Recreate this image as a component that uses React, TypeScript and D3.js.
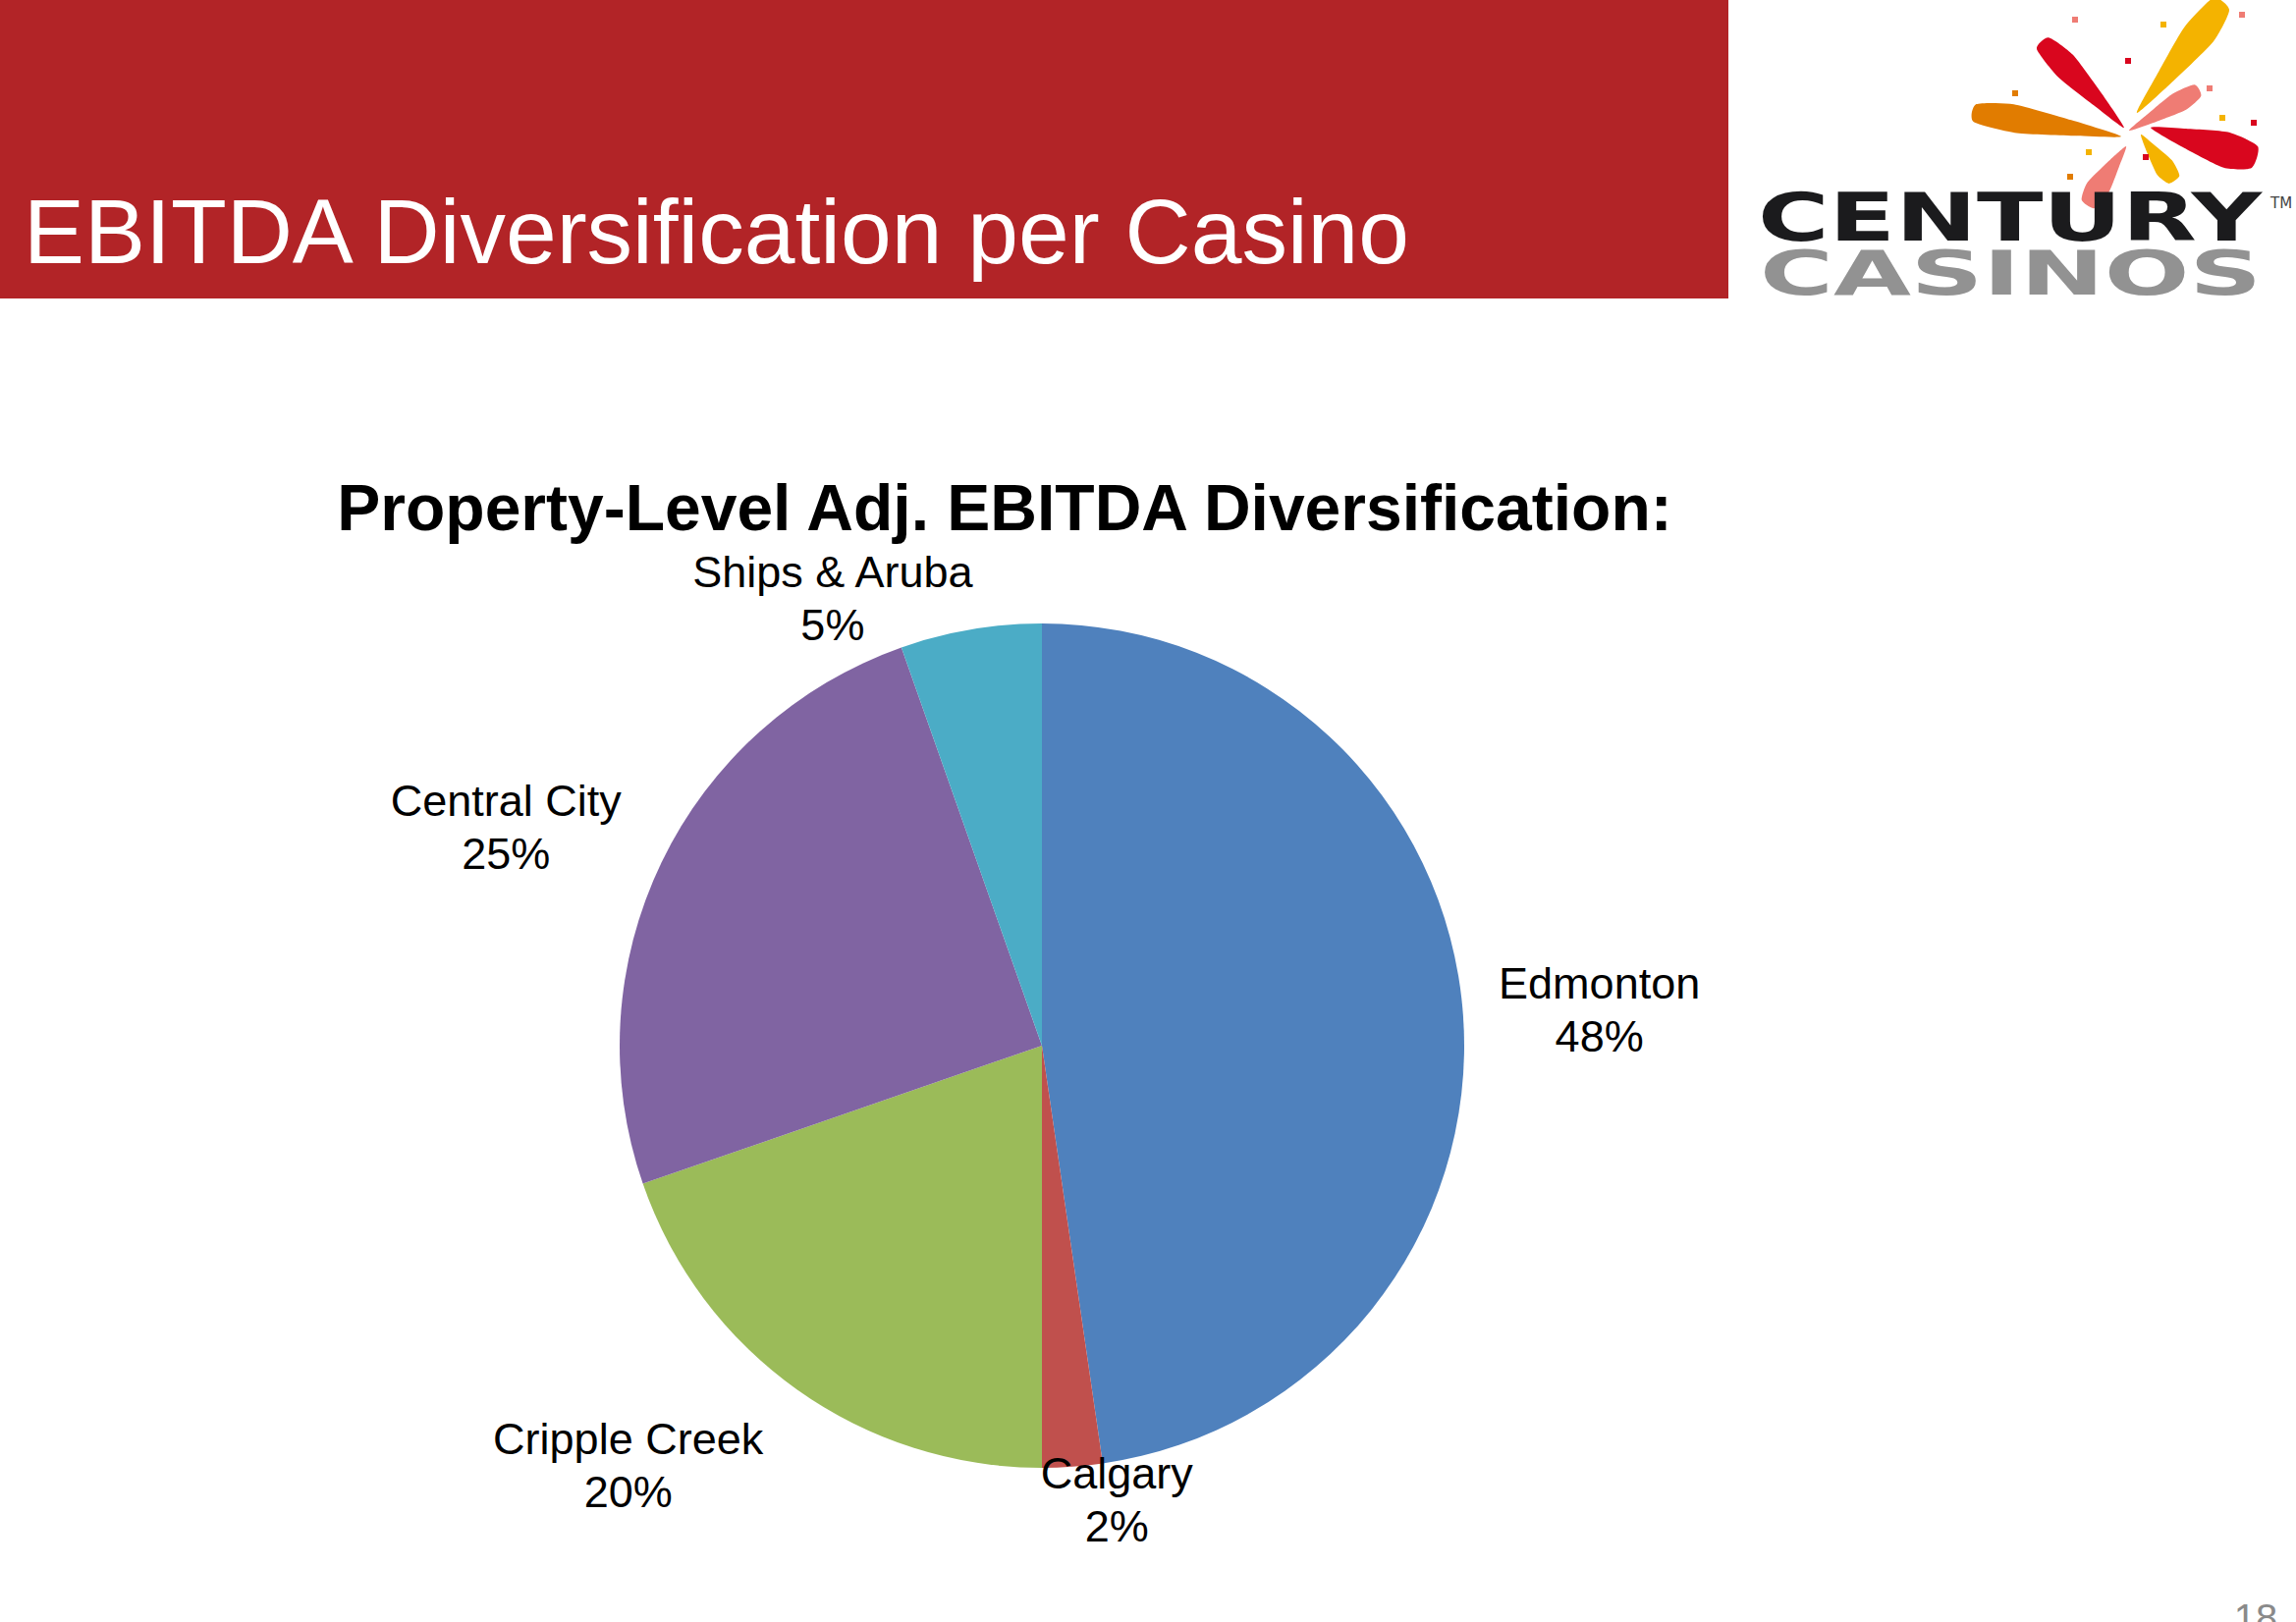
import React from "react";
import * as d3 from "d3";

// ---- data ----
const categories = ["Edmonton", "Calgary", "Cripple Creek", "Central City", "Ships & Aruba"];
const shares = [47.7, 2.3, 19.7, 24.9, 5.4];
const sliceColors = ["#4F81BD", "#C0504D", "#9BBB59", "#8064A2", "#4BACC6"];

const pageTitle = "EBITDA Diversification per Casino";
const chartTitle = "Property-Level Adj. EBITDA Diversification:";
const pageNumber = "18";

// ---- layout ----
const W = 2338;
const H = 1652;
const CX = 1061;
const CY = 1065;
const R = 430;
const LABEL_R = R * 1.2;
// per-label nudges from the centroid point (Excel best-fit placement)
const labelNudge: [number, number][] = [
  [53, 0],
  [39, -53],
  [-122, 7],
  [-81, 1],
  [-126, 53],
];

type Stroke = { x1: number; y1: number; x2: number; y2: number; w: number; c: string };
const fireStrokes: Stroke[] = [
  { x1: 2163, y1: 130, x2: 2080, y2: 44, w: 28, c: "#D9061E" },
  { x1: 2176, y1: 115, x2: 2262, y2: 4, w: 34, c: "#F4B300" },
  { x1: 2160, y1: 139, x2: 2011, y2: 115, w: 30, c: "#E17C00" },
  { x1: 2168, y1: 133, x2: 2238, y2: 92, w: 22, c: "#EF7C74" },
  { x1: 2190, y1: 130, x2: 2296, y2: 160, w: 38, c: "#D9061E" },
  { x1: 2180, y1: 137, x2: 2214, y2: 183, w: 22, c: "#F4B300" },
  { x1: 2165, y1: 149, x2: 2126, y2: 208, w: 25, c: "#EF7C74" },
];
const fireDots: [number, number, string][] = [
  [2113, 20, "#EF7C74"], [2203, 25, "#F4B300"], [2283, 15, "#EF7C74"],
  [2167, 62, "#D9061E"], [2052, 95, "#E17C00"], [2250, 90, "#EF7C74"],
  [2263, 120, "#F4B300"], [2295, 125, "#D9061E"], [2127, 155, "#F4B300"],
  [2185, 160, "#D9061E"], [2108, 180, "#E17C00"],
];

function strokePath(s: Stroke): string {
  const dx = s.x2 - s.x1;
  const dy = s.y2 - s.y1;
  const len = Math.hypot(dx, dy);
  const ux = dx / len, uy = dy / len;
  const px = -uy, py = ux;
  const pts: [number, number][] = [
    [s.x1, s.y1],
    [s.x1 + dx * 0.35 + px * s.w * 0.28, s.y1 + dy * 0.35 + py * s.w * 0.28],
    [s.x1 + dx * 0.75 + px * s.w * 0.5, s.y1 + dy * 0.75 + py * s.w * 0.5],
    [s.x2 + px * s.w * 0.3, s.y2 + py * s.w * 0.3],
    [s.x2 - px * s.w * 0.3, s.y2 - py * s.w * 0.3],
    [s.x1 + dx * 0.7 - px * s.w * 0.45, s.y1 + dy * 0.7 - py * s.w * 0.45],
    [s.x1 + dx * 0.3 - px * s.w * 0.22, s.y1 + dy * 0.3 - py * s.w * 0.22],
  ];
  return d3.line().curve(d3.curveCardinalClosed.tension(0.4))(pts) || "";
}

export default function App() {
  const pie = d3.pie<number>().sort(null).value((d) => d)(shares);
  const arc = d3.arc<d3.PieArcDatum<number>>().innerRadius(0).outerRadius(R);
  const labelArc = d3.arc<d3.PieArcDatum<number>>().innerRadius(LABEL_R).outerRadius(LABEL_R);
  const total = d3.sum(shares);
  const font = "'Liberation Sans', Arial, sans-serif";

  return (
    <svg
      width={W}
      height={H}
      viewBox={`0 0 ${W} ${H}`}
      style={{ position: "absolute", left: 0, top: 0, display: "block", background: "#fff" }}
    >
      <rect x={0} y={0} width={W} height={H} fill="#ffffff" />
      {/* header */}
      <rect x={0} y={0} width={1760} height={304} fill="#B22427" />
      <text x={24} y={268} fontFamily={font} fontSize={92} fill="#ffffff" textLength={1411} lengthAdjust="spacingAndGlyphs">
        {pageTitle}
      </text>

      {/* logo */}
      <g>
        {fireStrokes.map((s, i) => (
          <path key={i} d={strokePath(s)} fill={s.c} />
        ))}
        {fireDots.map(([x, y, c], i) => (
          <rect key={i} x={x - 3} y={y - 3} width={6} height={6} fill={c} />
        ))}
        <text x={1790} y={245} fontFamily="'DejaVu Sans', sans-serif" fontWeight="bold" fontSize={67} fill="#1b1b1d" textLength={513} lengthAdjust="spacingAndGlyphs">
          CENTURY
        </text>
        <text x={2312} y={212} fontFamily="'DejaVu Sans', sans-serif" fontSize={15} fill="#444">
          TM
        </text>
        <text x={1792} y={300} fontFamily="'DejaVu Sans', sans-serif" fontWeight="bold" fontSize={63} fill="#929292" textLength={511} lengthAdjust="spacingAndGlyphs">
          CASINOS
        </text>
      </g>

      {/* chart title */}
      <text x={1023} y={540} textAnchor="middle" fontFamily={font} fontWeight="bold" fontSize={66} fill="#000">
        {chartTitle}
      </text>

      {/* pie */}
      <g transform={`translate(${CX},${CY})`}>
        {pie.map((d, i) => (
          <path key={i} d={arc(d) || ""} fill={sliceColors[i]} />
        ))}
        {pie.map((d, i) => {
          const [lx, ly] = labelArc.centroid(d);
          const x = lx + labelNudge[i][0];
          const y = ly + labelNudge[i][1];
          const pct = Math.round((d.value / total) * 100);
          return (
            <text key={"l" + i} x={x} y={y - 11} textAnchor="middle" fontFamily={font} fontSize={45} fill="#000">
              <tspan x={x} dy={0}>{categories[i]}</tspan>
              <tspan x={x} dy={54}>{pct + "%"}</tspan>
            </text>
          );
        })}
      </g>

      {/* page number */}
      <text x={2297} y={1662} textAnchor="middle" fontFamily={font} fontSize={40} fill="#8a8a8a">
        {pageNumber}
      </text>
    </svg>
  );
}
